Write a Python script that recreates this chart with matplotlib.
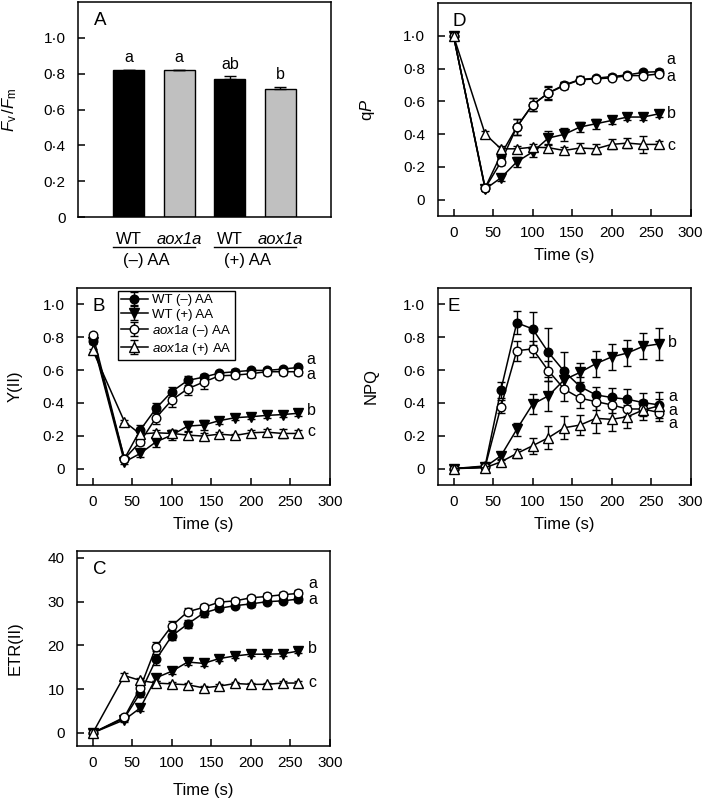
import matplotlib
matplotlib.use('Agg')
import matplotlib.pyplot as plt
from matplotlib.ticker import FuncFormatter, MultipleLocator

plt.rcParams['font.family'] = ['Liberation Sans', 'DejaVu Sans']
plt.rcParams['mathtext.fontset'] = 'custom'
plt.rcParams['mathtext.rm'] = 'Liberation Sans'
plt.rcParams['mathtext.it'] = 'Liberation Sans:italic'
plt.rcParams['mathtext.bf'] = 'Liberation Sans:bold'
plt.rcParams['font.size'] = 12

# ---------------- data ----------------
# Panel A
bar_genotypes = ['WT', 'aox1a', 'WT', 'aox1a']
bar_treatments = ['(–) AA', '(+) AA']
fvfm_values = [0.819, 0.818, 0.771, 0.715]
fvfm_errors = [0.004, 0.004, 0.015, 0.013]
fvfm_letters = ['a', 'a', 'ab', 'b']

time_s = [0, 40, 60, 80, 100, 120, 140, 160, 180, 200, 220, 240, 260]
series_labels = ['WT (–) AA', 'WT (+) AA', r'$\mathit{aox1a}$ (–) AA', r'$\mathit{aox1a}$ (+) AA']

# Panel B: Y(II)
yii_wt_minus = [0.78, 0.06, 0.235, 0.367, 0.469, 0.537, 0.557, 0.582, 0.59, 0.598, 0.598, 0.606, 0.616]
yii_wt_plus = [0.77, 0.04, 0.092, 0.163, 0.204, 0.259, 0.265, 0.292, 0.31, 0.316, 0.324, 0.329, 0.337]
yii_aox_minus = [0.816, 0.06, 0.163, 0.31, 0.418, 0.486, 0.527, 0.565, 0.569, 0.578, 0.59, 0.59, 0.59]
yii_aox_plus = [0.72, 0.286, 0.21, 0.218, 0.214, 0.204, 0.198, 0.21, 0.202, 0.218, 0.222, 0.214, 0.214]
yii_wt_minus_err = [0.01, 0.01, 0.03, 0.03, 0.03, 0.03, 0.02, 0.015, 0.015, 0.015, 0.015, 0.015, 0.015]
yii_wt_plus_err = [0.01, 0.01, 0.02, 0.03, 0.03, 0.03, 0.03, 0.02, 0.015, 0.015, 0.015, 0.015, 0.015]
yii_aox_minus_err = [0.01, 0.01, 0.02, 0.04, 0.04, 0.04, 0.04, 0.02, 0.02, 0.02, 0.02, 0.02, 0.02]
yii_aox_plus_err = [0.01, 0.01, 0.02, 0.02, 0.02, 0.02, 0.02, 0.015, 0.01, 0.015, 0.02, 0.03, 0.02]
yii_letters = ['a', 'a', 'b', 'c']
yii_letter_y = [0.663, 0.571, 0.353, 0.224]

# Panel C: ETR(II)
etr_wt_minus = [0, 3.4, 9.1, 16.8, 22.2, 24.9, 27.4, 28.5, 29.1, 29.5, 30.0, 30.2, 30.6]
etr_wt_plus = [0, 3.0, 5.7, 12.6, 14.1, 16.2, 15.9, 17.0, 17.6, 18.0, 18.0, 18.1, 18.7]
etr_aox_minus = [0, 3.6, 10.3, 19.7, 24.5, 27.7, 28.7, 29.9, 30.2, 30.9, 31.2, 31.6, 31.9]
etr_aox_plus = [0, 13.1, 12.0, 11.4, 11.2, 11.0, 10.3, 10.7, 11.3, 11.1, 11.1, 11.4, 11.4]
etr_wt_minus_err = [0.3, 0.5, 0.8, 1.2, 1.0, 1.0, 0.8, 0.7, 0.6, 0.6, 0.6, 0.6, 0.6]
etr_wt_plus_err = [0.3, 0.4, 0.6, 0.8, 0.6, 0.6, 0.6, 0.5, 0.5, 0.5, 0.5, 0.5, 0.5]
etr_aox_minus_err = [0.3, 0.5, 0.8, 1.0, 1.0, 0.8, 0.8, 0.7, 0.7, 0.7, 0.7, 0.7, 0.7]
etr_aox_plus_err = [0.3, 0.5, 0.6, 0.5, 0.4, 0.4, 0.4, 0.4, 0.4, 0.4, 0.4, 0.4, 0.4]
etr_letters = ['a', 'a', 'b', 'c']
etr_letter_y = [34.1, 30.6, 19.3, 11.6]

# Panel D: qP
qp_wt_minus = [1.0, 0.072, 0.275, 0.443, 0.579, 0.652, 0.70, 0.733, 0.741, 0.751, 0.761, 0.777, 0.781]
qp_wt_plus = [1.0, 0.064, 0.133, 0.23, 0.291, 0.376, 0.398, 0.443, 0.463, 0.483, 0.504, 0.504, 0.524]
qp_aox_minus = [1.0, 0.07, 0.23, 0.443, 0.579, 0.65, 0.696, 0.731, 0.737, 0.743, 0.757, 0.757, 0.767]
qp_aox_plus = [1.0, 0.40, 0.31, 0.31, 0.32, 0.317, 0.30, 0.315, 0.31, 0.337, 0.345, 0.337, 0.337]
qp_wt_minus_err = [0.01, 0.01, 0.02, 0.05, 0.04, 0.04, 0.02, 0.02, 0.015, 0.015, 0.015, 0.015, 0.015]
qp_wt_plus_err = [0.01, 0.01, 0.02, 0.03, 0.03, 0.04, 0.04, 0.03, 0.03, 0.02, 0.02, 0.02, 0.02]
qp_aox_minus_err = [0.01, 0.01, 0.02, 0.05, 0.04, 0.04, 0.02, 0.02, 0.015, 0.015, 0.015, 0.015, 0.015]
qp_aox_plus_err = [0.01, 0.02, 0.02, 0.02, 0.02, 0.02, 0.02, 0.03, 0.03, 0.03, 0.03, 0.05, 0.02]
qp_letters = ['a', 'a', 'b', 'c']
qp_letter_y = [0.858, 0.753, 0.524, 0.328]

# Panel E: NPQ
npq_wt_minus = [0, 0.016, 0.48, 0.888, 0.851, 0.708, 0.592, 0.5, 0.449, 0.433, 0.422, 0.402, 0.388]
npq_wt_plus = [0, 0.01, 0.078, 0.239, 0.392, 0.443, 0.541, 0.586, 0.639, 0.68, 0.704, 0.745, 0.759]
npq_aox_minus = [0, 0.01, 0.378, 0.718, 0.729, 0.596, 0.484, 0.429, 0.408, 0.388, 0.363, 0.363, 0.341]
npq_aox_plus = [0, 0.005, 0.041, 0.092, 0.139, 0.188, 0.249, 0.265, 0.306, 0.30, 0.316, 0.357, 0.382]
npq_wt_minus_err = [0.005, 0.01, 0.05, 0.07, 0.10, 0.15, 0.12, 0.06, 0.05, 0.06, 0.06, 0.06, 0.08]
npq_wt_plus_err = [0.005, 0.01, 0.02, 0.04, 0.06, 0.09, 0.06, 0.06, 0.08, 0.08, 0.08, 0.08, 0.10]
npq_aox_minus_err = [0.005, 0.01, 0.04, 0.06, 0.05, 0.06, 0.07, 0.06, 0.05, 0.05, 0.04, 0.04, 0.05]
npq_aox_plus_err = [0.005, 0.01, 0.01, 0.03, 0.05, 0.07, 0.07, 0.06, 0.09, 0.07, 0.07, 0.06, 0.04]
npq_letters = ['b', 'a', 'a', 'a']
npq_letter_y = [0.765, 0.437, 0.352, 0.275]

# ---------------- styling ----------------
W, H = 704, 802
fig = plt.figure(figsize=(W / 100, H / 100), dpi=100)


def ax_at(left, top, right, bottom):
    return fig.add_axes([left / W, 1 - bottom / H, (right - left) / W, (bottom - top) / H])


def fmt(v, pos):
    if abs(v) < 1e-9:
        return '0'
    return f'{v:.1f}'.replace('.', '·')


def style_axis(ax):
    for s in ax.spines.values():
        s.set_linewidth(1.1)
    ax.tick_params(direction='in', length=5, width=1.1, top=False, right=False,
                   labelsize=11)
    ax.tick_params(axis='y', pad=9)
    ax.tick_params(axis='x', pad=7)


styles = [
    dict(marker='o', mfc='black', ms=6.2),
    dict(marker='v', mfc='black', ms=7),
    dict(marker='o', mfc='white', ms=6.2),
    dict(marker='^', mfc='white', ms=7),
]


def line_panel(ax, ys, errs, letters, letter_y, letter_x):
    handles = []
    for y, e, st, lab in zip(ys, errs, styles, series_labels):
        h = ax.errorbar(time_s, y, yerr=e, color='black', lw=1.1, mec='black',
                        mew=1.0, capsize=3, elinewidth=1.0, capthick=1.0,
                        label=lab, **st)
        handles.append(h)
    for t, ly in zip(letters, letter_y):
        ax.text(letter_x, ly, t, ha='center', va='center', fontsize=11.5)
    ax.set_xlim(-20, 300)
    ax.xaxis.set_major_locator(MultipleLocator(50))
    style_axis(ax)
    return handles


# Panel A
axA = ax_at(78, 2, 331, 217)
xpos = [1, 2, 3, 4]
bar_colors = ['black', '#c0c0c0', 'black', '#c0c0c0']
axA.bar(xpos, fvfm_values, width=0.62, color=bar_colors, edgecolor='black', linewidth=1.0)
axA.errorbar(xpos, fvfm_values, yerr=[[0] * 4, fvfm_errors], fmt='none', ecolor='black',
             elinewidth=1.0, capsize=4, capthick=1.0)
for x, v, e, t in zip(xpos, fvfm_values, fvfm_errors, fvfm_letters):
    axA.text(x, v + e + 0.025, t, ha='center', va='bottom', fontsize=11.5)
axA.set_xlim(0, 5)
axA.set_ylim(0, 1.2)
axA.set_xticks([])
axA.set_yticks([0, 0.2, 0.4, 0.6, 0.8, 1.0])
axA.yaxis.set_major_formatter(FuncFormatter(fmt))
style_axis(axA)
axA.set_ylabel(r'$F_{\rm v}\,/F_{\rm m}$', fontsize=12)
axA.yaxis.set_label_coords(-0.235, 0.5)
axA.text(0.065, 0.955, 'A', transform=axA.transAxes, fontsize=13.5, va='top', ha='left')
for x, g in zip(xpos, bar_genotypes):
    axA.text(x, -0.125, g, ha='center', va='center', fontsize=12,
             fontstyle='italic' if g != 'WT' else 'normal')
for i, tr in enumerate(bar_treatments):
    x0 = xpos[2 * i] - 0.31
    x1 = xpos[2 * i + 1] + 0.31
    axA.plot([x0, x1], [-0.168, -0.168], color='black', lw=1.0, clip_on=False)
    axA.text((x0 + x1) / 2 - 0.15, -0.24, tr, ha='center', va='center', fontsize=12)

# Panel B
axB = ax_at(77, 288, 330, 485)
hs = line_panel(axB, [yii_wt_minus, yii_wt_plus, yii_aox_minus, yii_aox_plus],
                [yii_wt_minus_err, yii_wt_plus_err, yii_aox_minus_err, yii_aox_plus_err],
                yii_letters, yii_letter_y, 276)
axB.set_ylim(-0.1, 1.1)
axB.set_yticks([0, 0.2, 0.4, 0.6, 0.8, 1.0])
axB.yaxis.set_major_formatter(FuncFormatter(fmt))
axB.set_ylabel('Y(II)')
axB.yaxis.set_label_coords(-0.215, 0.5)
axB.set_xlabel('Time (s)')
axB.xaxis.set_label_coords(0.5, -0.162)
axB.text(0.063, 0.95, 'B', transform=axB.transAxes, fontsize=13.5, va='top', ha='left')
leg = axB.legend(handles=hs, loc='upper left', bbox_to_anchor=(0.162, 0.985),
                 borderaxespad=0, fontsize=9.5, frameon=True, fancybox=False,
                 edgecolor='black', framealpha=1, handlelength=2.0,
                 handletextpad=0.3, labelspacing=0.15, borderpad=0.25)
leg.get_frame().set_linewidth(1.0)

# Panel C
axC = ax_at(77, 551, 330, 746)
line_panel(axC, [etr_wt_minus, etr_wt_plus, etr_aox_minus, etr_aox_plus],
           [etr_wt_minus_err, etr_wt_plus_err, etr_aox_minus_err, etr_aox_plus_err],
           etr_letters, etr_letter_y, 278)
axC.set_ylim(-3, 41.6)
axC.set_yticks([0, 10, 20, 30, 40])
axC.set_ylabel('ETR(II)')
axC.yaxis.set_label_coords(-0.215, 0.5)
axC.set_xlabel('Time (s)')
axC.xaxis.set_label_coords(0.5, -0.19)
axC.text(0.063, 0.95, 'C', transform=axC.transAxes, fontsize=13.5, va='top', ha='left')

# Panel D
axD = ax_at(437.7, 3, 690.7, 216)
line_panel(axD, [qp_wt_minus, qp_wt_plus, qp_aox_minus, qp_aox_plus],
           [qp_wt_minus_err, qp_wt_plus_err, qp_aox_minus_err, qp_aox_plus_err],
           qp_letters, qp_letter_y, 275)
axD.set_ylim(-0.1, 1.2)
axD.set_yticks([0, 0.2, 0.4, 0.6, 0.8, 1.0])
axD.yaxis.set_major_formatter(FuncFormatter(fmt))
axD.set_ylabel(r'q$\mathit{P}$')
axD.yaxis.set_label_coords(-0.24, 0.5)
axD.set_xlabel('Time (s)')
axD.xaxis.set_label_coords(0.5, -0.15)
axD.text(0.057, 0.955, 'D', transform=axD.transAxes, fontsize=13.5, va='top', ha='left')

# Panel E
axE = ax_at(437.7, 288, 690.7, 485)
line_panel(axE, [npq_wt_minus, npq_wt_plus, npq_aox_minus, npq_aox_plus],
           [npq_wt_minus_err, npq_wt_plus_err, npq_aox_minus_err, npq_aox_plus_err],
           npq_letters, npq_letter_y, 277)
axE.set_ylim(-0.1, 1.1)
axE.set_yticks([0, 0.2, 0.4, 0.6, 0.8, 1.0])
axE.yaxis.set_major_formatter(FuncFormatter(fmt))
axE.set_ylabel('NPQ')
axE.yaxis.set_label_coords(-0.235, 0.5)
axE.set_xlabel('Time (s)')
axE.xaxis.set_label_coords(0.5, -0.162)
axE.text(0.04, 0.95, 'E', transform=axE.transAxes, fontsize=13.5, va='top', ha='left')

fig.savefig('out.png', dpi=100)
